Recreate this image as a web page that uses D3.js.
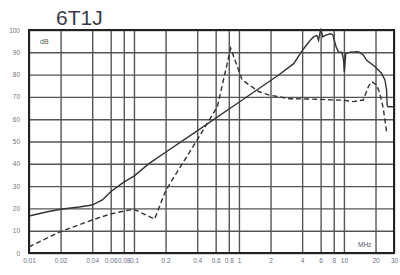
<!DOCTYPE html>
<html>
<head>
<meta charset="utf-8">
<script src="https://cdn.jsdelivr.net/npm/d3@7"></script>
<style>
  body { margin: 0; background: #fff; }
  svg { display: block; font-family: "Liberation Sans", Arial, sans-serif; }
</style>
</head>
<body>
<svg width="400" height="275"></svg>
<script>
// frequency ticks (MHz) and dB ticks
const xTicks = [0.01, 0.02, 0.04, 0.06, 0.08, 0.1, 0.2, 0.4, 0.6, 0.8, 1, 2, 4, 6, 8, 10, 20, 30];
const xTickLabels = ["0.01", "0.02", "0.04", "0.06", "0.08", "0.1", "0.2", "0.4", "0.6", "0.8", "1", "2", "4", "6", "8", "10", "20", "30"];
const yTicks = [0, 10, 20, 30, 40, 50, 60, 70, 80, 90, 100];

// solid curve: [MHz, dB]
const solidFreq = [0.01, 0.015, 0.02, 0.03, 0.04, 0.05, 0.06, 0.08, 0.1, 0.14, 0.2, 0.4, 1, 2.39, 3.32, 4.13, 4.78, 5.14, 5.52, 5.73, 6.02, 6.29, 6.63, 7.4, 7.83, 8.44, 8.87, 9.53, 9.89, 10.1, 10.4, 11.4, 13.7, 15.3, 16.4, 19.8, 22.8, 24.6, 25.5, 25.8, 26.4, 30];
const solidDb   = [16.6, 18.5, 19.6, 20.6, 21.5, 23.8, 27.5, 31.8, 34.5, 40.2, 45.2, 54.8, 67.6, 79.8, 84.9, 91.6, 95.4, 96.9, 97.6, 95.4, 100.6, 96.9, 97.6, 98.3, 97.9, 92.4, 90.1, 90.1, 87.1, 81.2, 89.4, 90.1, 90.3, 88.8, 86.5, 83.5, 80.6, 77.6, 73.1, 66.4, 65.6, 65.6];

// dashed curve: [MHz, dB]
const dashFreq = [0.01, 0.02, 0.04, 0.06, 0.08, 0.1, 0.157, 0.202, 0.418, 0.623, 0.834, 1.074, 1.55, 1.92, 3, 5, 10, 12.3, 15.3, 17.1, 18.4, 20.5, 22.0, 23.7, 24.6, 25.5];
const dashDb   = [2.8, 9.6, 14.8, 17.5, 18.8, 19.6, 15.2, 28.3, 52.2, 65.6, 91.8, 77.6, 72.3, 70.9, 69.2, 69, 68.5, 67.9, 68.6, 74.6, 76.8, 75.3, 71.6, 64.9, 59.6, 54.4];

const svg = d3.select("svg");
const plotL = 29, plotR = 394, plotT = 30, plotB = 253;

const x = d3.scaleLog().domain([0.01, 30]).range([plotL, plotR]);
const y = d3.scaleLinear().domain([0, 100]).range([plotB, plotT]);

// title
svg.append("text")
  .attr("x", 56).attr("y", 25)
  .attr("font-size", 21)
  .attr("fill", "#3a3b48")
  .text("6T1J");

// vertical grid + x labels
const xAxis = svg.append("g")
  .attr("transform", `translate(0,${plotB})`)
  .call(d3.axisBottom(x)
    .tickValues(xTicks)
    .tickFormat((d, i) => xTickLabels[i])
    .tickSizeInner(-(plotB - plotT))
    .tickSizeOuter(0)
    .tickPadding(5));
xAxis.select(".domain").remove();
xAxis.selectAll("line").attr("stroke", "#555").attr("stroke-width", 1.4);
xAxis.selectAll("text").attr("font-size", 6.5).attr("fill", "#6a6f88")
  .attr("font-family", "'Liberation Sans', Arial, sans-serif");

// horizontal grid + y labels
const yAxis = svg.append("g")
  .attr("transform", `translate(${plotL},0)`)
  .call(d3.axisLeft(y)
    .tickValues(yTicks)
    .tickSizeInner(-(plotR - plotL))
    .tickSizeOuter(0)
    .tickPadding(9));
yAxis.select(".domain").remove();
yAxis.selectAll("line").attr("stroke", "#555").attr("stroke-width", 1.4);
yAxis.selectAll("text").attr("font-size", 6.5).attr("fill", "#777")
  .attr("font-family", "'Liberation Sans', Arial, sans-serif");

// frame
svg.append("rect")
  .attr("x", plotL).attr("y", plotT)
  .attr("width", plotR - plotL).attr("height", plotB - plotT)
  .attr("fill", "none").attr("stroke", "#222").attr("stroke-width", 2);

// units
svg.append("text").attr("x", 40).attr("y", 44).attr("font-size", 7).attr("fill", "#555").text("dB");
svg.append("text").attr("x", 358).attr("y", 247).attr("font-size", 6.5).attr("fill", "#556").text("MHz");

const line = d3.line().x(d => x(d[0])).y(d => y(d[1]));

svg.append("path")
  .datum(d3.zip(solidFreq, solidDb))
  .attr("d", line)
  .attr("fill", "none")
  .attr("stroke", "#333")
  .attr("stroke-width", 1.4);

svg.append("path")
  .datum(d3.zip(dashFreq, dashDb))
  .attr("d", line)
  .attr("fill", "none")
  .attr("stroke", "#333")
  .attr("stroke-width", 1.4)
  .attr("stroke-dasharray", "5,3");
</script>
</body>
</html>
